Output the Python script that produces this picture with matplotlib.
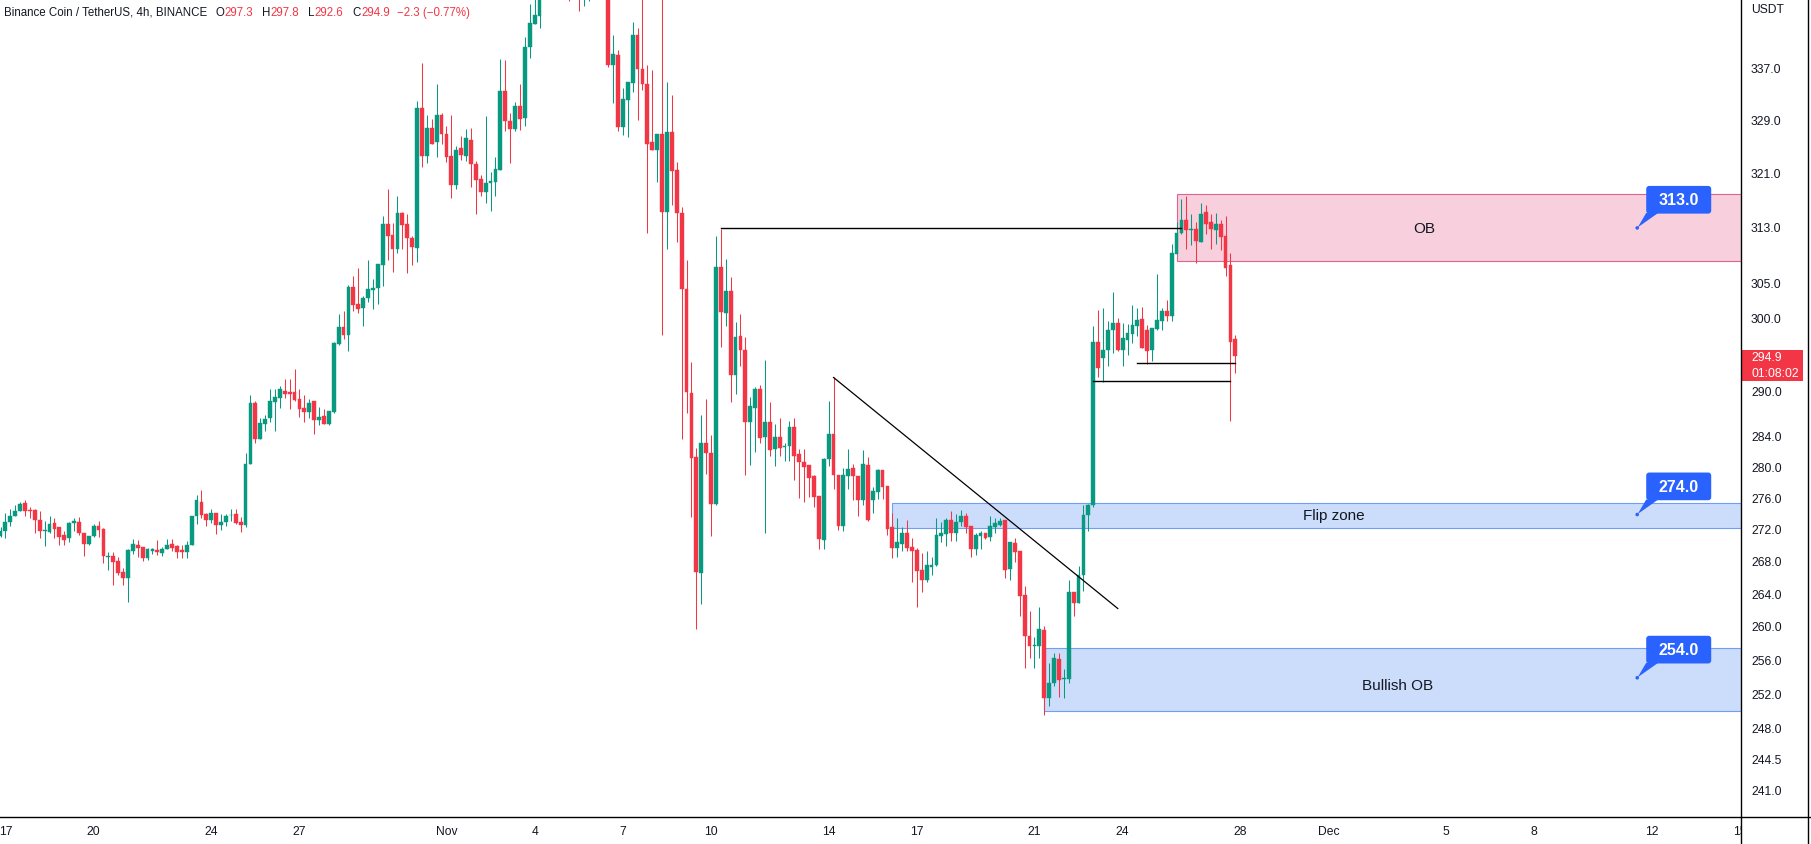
import numpy as np
import pandas as pd
import matplotlib
matplotlib.use("Agg")
import matplotlib.pyplot as plt
from matplotlib.patches import Rectangle, FancyBboxPatch, Polygon, Circle
from matplotlib.lines import Line2D
from matplotlib.transforms import IdentityTransform
from matplotlib.ticker import NullLocator

plt.rcParams['font.family'] = ['Liberation Sans', 'DejaVu Sans']

# ---- BNB/USDT 4h candles (first candle 2022-10-16 20:00, last 2022-11-27 20:00)
first_candle = '2022-10-16 20:00'

opens = [
    271.3, 271.9, 273.0, 273.8, 274.5, 275.5, 274.6, 274.6, 273.3, 271.9,
    271.8, 272.9, 272.4, 271.4, 271.0, 272.9, 273.1, 271.7, 270.3, 271.3,
    272.6, 272.2, 268.6, 268.8, 268.1, 266.8, 266.1, 269.4, 270.2, 269.9,
    268.5, 269.4, 269.5, 269.2, 269.65, 270.3, 270.0, 269.5, 269.3, 270.1,
    273.8, 275.6, 274.1, 273.3, 274.2, 272.7, 273.0, 273.9, 274.1, 273.1,
    272.7, 280.5, 288.6, 283.8, 285.8, 286.5, 288.7, 289.3, 290.2, 290.1,
    290.0, 289.1, 287.9, 287.4, 288.8, 286.3, 286.8, 285.8, 287.4, 296.6,
    298.9, 297.8, 304.6, 302.2, 301.6, 303.0, 304.1, 304.4, 307.7, 313.6,
    311.9, 309.9, 315.2, 313.5, 311.6, 310.1, 330.9, 323.6, 327.9, 325.7,
    329.8, 327.0, 323.6, 319.3, 324.8, 323.7, 326.1, 322.5, 320.2, 318.3,
    319.6, 319.8, 321.6, 333.6, 329.0, 327.7, 331.2, 329.4, 340.4, 344.1,
    345.4, 349.5, 354.0, 352.0, 355.5, 358.0, 352.5, 350.0, 354.5, 349.0,
    352.5, 356.5, 359.0, 353.5, 357.5, 337.6, 339.1, 328.0, 332.2, 334.8,
    342.3, 337.0, 334.7, 325.7, 324.5, 327.0, 315.3, 327.3, 321.5, 315.2,
    304.2, 289.9, 281.4, 266.7, 283.2, 281.9, 275.4, 307.4, 300.9, 304.0,
    292.4, 297.7, 295.7, 286.0, 287.9, 290.4, 284.0, 286.0, 282.4, 284.1,
    282.7, 282.8, 285.3, 281.8, 280.8, 280.4, 279.0, 276.4, 270.8, 281.1,
    284.5, 279.1, 272.5, 278.9, 280.0, 279.0, 275.8, 280.4, 275.9, 276.9,
    279.7, 277.6, 272.4, 269.8, 270.3, 271.7, 269.9, 269.5, 267.0, 265.8,
    267.4, 267.6, 271.3, 271.5, 273.3, 271.6, 273.0, 273.8, 272.5, 269.6,
    271.3, 271.7, 271.1, 272.4, 272.7, 273.3, 267.1, 270.4, 269.4, 263.9,
    259.0, 257.8, 257.8, 259.7, 251.6, 253.4, 256.2, 253.8, 253.9, 264.3,
    263.0, 266.4, 273.9, 275.2, 296.9, 294.6, 295.8, 298.5, 299.5, 295.7,
    297.1, 298.0, 299.1, 300.1, 298.5, 295.7, 298.7, 299.8, 301.2, 300.5,
    309.3, 312.2, 314.2, 312.7, 312.8, 311.0, 315.3, 313.8, 312.7, 313.5,
    311.8, 307.6, 297.3]

highs = [
    272.4, 274.2, 274.7, 275.2, 275.6, 275.8, 274.9, 274.7, 274.5, 273.2,
    273.85, 273.6, 272.4, 271.9, 273.1, 273.6, 273.7, 271.7, 271.3, 272.8,
    273.2, 272.3, 269.3, 269.3, 268.6, 267.3, 269.6, 270.9, 270.8, 269.9,
    269.8, 269.8, 270.75, 269.9, 270.9, 270.9, 270.2, 270.2, 270.7, 273.85,
    276.5, 277.2, 274.2, 274.7, 274.2, 274.1, 274.1, 274.7, 274.7, 273.7,
    282.0, 289.7, 288.8, 286.6, 287.0, 290.4, 290.5, 290.8, 291.8, 291.8,
    293.1, 290.4, 289.6, 289.1, 288.8, 288.0, 287.8, 287.5, 296.9, 300.8,
    301.1, 304.8, 306.1, 307.3, 303.2, 308.4, 305.7, 307.8, 314.8, 318.7,
    313.7, 317.6, 315.3, 315.1, 311.8, 332.0, 337.9, 329.9, 329.2, 334.7,
    330.1, 328.1, 329.9, 325.2, 326.6, 327.7, 327.8, 322.9, 320.8, 329.7,
    321.3, 323.5, 338.6, 338.4, 330.1, 331.8, 334.6, 342.0, 347.3, 351.0,
    352.0, 356.0, 358.0, 357.5, 361.0, 359.5, 354.0, 356.0, 355.5, 354.0,
    358.0, 362.0, 364.0, 360.0, 358.0, 342.3, 340.0, 334.0, 334.9, 344.4,
    343.5, 352.0, 337.6, 336.8, 327.0, 355.0, 335.0, 333.0, 322.7, 316.1,
    308.4, 294.1, 282.6, 286.9, 289.1, 284.3, 311.8, 312.9, 308.5, 306.0,
    299.6, 300.7, 297.6, 289.4, 290.7, 291.0, 294.4, 288.7, 285.7, 286.5,
    283.2, 286.1, 286.5, 282.4, 282.4, 280.4, 279.1, 276.4, 281.3, 288.8,
    292.0, 279.1, 280.0, 282.4, 280.5, 279.0, 282.3, 281.4, 277.5, 279.9,
    279.7, 277.6, 274.2, 273.6, 272.4, 273.3, 271.0, 269.8, 269.1, 269.4,
    268.7, 273.5, 273.0, 273.6, 274.5, 274.1, 274.6, 274.2, 272.5, 271.6,
    271.9, 271.7, 273.8, 273.5, 273.5, 273.3, 270.5, 271.0, 269.4, 265.0,
    262.0, 258.8, 262.5, 260.2, 255.7, 256.9, 256.9, 255.0, 265.8, 264.3,
    267.5, 275.2, 275.4, 299.0, 301.3, 301.6, 299.8, 303.8, 300.2, 299.5,
    299.4, 302.0, 301.6, 301.7, 299.2, 298.8, 306.4, 301.6, 302.7, 310.7,
    313.8, 317.3, 317.7, 315.1, 313.8, 316.7, 316.4, 315.0, 315.2, 314.1,
    314.8, 309.4, 297.8]

lows = [
    271.1, 271.0, 272.6, 273.8, 274.5, 273.8, 273.6, 271.7, 271.0, 270.0,
    271.6, 271.0, 270.2, 270.1, 270.5, 271.9, 271.4, 268.8, 270.2, 271.1,
    271.2, 267.9, 267.0, 265.2, 266.4, 265.2, 263.1, 269.0, 268.7, 268.2,
    268.3, 269.0, 268.9, 268.8, 269.65, 269.35, 268.5, 268.5, 268.5, 270.1,
    272.8, 273.6, 272.5, 272.9, 271.5, 272.0, 272.6, 273.2, 272.8, 271.8,
    272.4, 280.5, 283.2, 283.8, 284.8, 286.0, 284.8, 287.9, 289.3, 287.8,
    288.8, 286.7, 286.0, 286.6, 284.5, 285.6, 285.7, 285.6, 287.2, 296.4,
    297.3, 295.6, 301.2, 300.9, 299.1, 302.4, 301.4, 302.2, 304.7, 308.4,
    306.6, 309.4, 310.0, 306.5, 307.6, 308.1, 322.0, 322.6, 325.5, 323.5,
    325.5, 322.8, 317.4, 318.7, 323.1, 322.9, 319.0, 315.0, 317.7, 316.6,
    315.5, 317.7, 321.5, 327.4, 322.6, 327.4, 327.5, 328.1, 338.7, 344.1,
    343.4, 348.5, 350.0, 349.0, 352.5, 351.0, 347.8, 349.0, 346.2, 346.9,
    347.8, 353.0, 352.5, 348.3, 337.3, 331.7, 327.4, 326.8, 326.5, 333.4,
    329.1, 333.7, 312.3, 324.5, 319.7, 297.8, 310.0, 316.4, 310.9, 283.8,
    287.2, 273.7, 259.8, 262.8, 279.2, 271.3, 275.2, 296.2, 299.1, 288.7,
    289.8, 293.5, 279.1, 280.4, 282.1, 283.2, 271.7, 281.6, 280.3, 281.6,
    280.9, 280.9, 278.4, 276.1, 275.6, 276.3, 274.9, 269.7, 269.7, 280.3,
    277.3, 272.1, 271.9, 277.3, 275.9, 273.8, 275.2, 273.2, 274.2, 276.0,
    276.0, 271.4, 268.5, 268.7, 269.4, 269.4, 265.6, 262.5, 264.3, 265.5,
    266.4, 267.5, 270.5, 270.0, 270.7, 270.6, 272.5, 271.7, 268.6, 268.9,
    269.7, 270.9, 270.7, 271.6, 272.5, 266.0, 265.8, 268.0, 261.4, 255.1,
    256.3, 255.2, 256.3, 249.6, 250.7, 253.0, 251.8, 251.6, 253.4, 261.4,
    263.0, 264.5, 271.9, 275.0, 292.0, 291.4, 293.5, 295.4, 295.6, 293.6,
    295.1, 296.7, 297.7, 296.0, 293.9, 294.2, 298.5, 298.5, 299.8, 299.7,
    309.3, 312.1, 309.9, 310.5, 308.0, 310.9, 312.1, 310.0, 310.7, 309.8,
    306.1, 286.2, 292.6]

closes = [
    271.9, 273.0, 273.85, 274.5, 275.4, 274.5, 274.4, 273.25, 271.9, 272.1,
    272.8, 272.2, 271.2, 270.8, 272.9, 273.2, 271.7, 270.3, 271.3, 272.6,
    272.1, 268.8, 268.8, 268.0, 266.6, 266.0, 269.5, 270.3, 269.8, 268.5,
    269.65, 269.65, 269.3, 269.65, 270.2, 269.8, 269.3, 269.3, 270.2, 273.85,
    275.8, 274.0, 273.3, 274.2, 272.7, 273.1, 273.85, 273.95, 272.9, 272.7,
    280.5, 288.6, 283.8, 285.9, 286.4, 288.8, 289.4, 290.4, 289.8, 289.8,
    288.9, 287.7, 287.4, 288.6, 286.3, 286.7, 285.8, 287.5, 296.7, 298.9,
    297.8, 304.6, 302.0, 301.5, 303.0, 304.2, 304.4, 307.8, 313.6, 311.8,
    309.9, 315.2, 313.4, 311.5, 310.2, 330.9, 323.7, 327.9, 325.5, 329.8,
    326.9, 323.5, 319.3, 324.6, 323.8, 326.4, 322.4, 320.1, 318.3, 319.6,
    319.9, 321.7, 333.6, 328.9, 327.7, 331.2, 329.2, 340.5, 344.2, 345.5,
    349.5, 354.0, 352.0, 355.5, 358.0, 352.5, 350.0, 354.5, 349.0, 352.5,
    356.5, 359.0, 353.5, 357.5, 337.6, 339.3, 328.0, 332.3, 334.9, 342.3,
    337.0, 334.7, 325.5, 324.5, 327.0, 315.3, 327.3, 321.4, 315.2, 304.2,
    290.0, 281.3, 266.8, 283.2, 281.9, 275.4, 307.4, 301.0, 303.9, 292.3,
    297.6, 295.7, 286.0, 288.1, 290.4, 283.9, 286.0, 282.3, 284.0, 282.6,
    282.8, 285.3, 281.6, 280.7, 280.1, 278.7, 276.3, 270.9, 281.2, 284.5,
    279.1, 272.5, 279.1, 279.9, 278.9, 275.8, 280.5, 273.3, 277.0, 279.7,
    277.5, 272.2, 269.8, 270.5, 271.6, 269.8, 269.4, 266.9, 265.8, 267.6,
    267.6, 271.4, 271.6, 273.3, 271.7, 273.0, 273.8, 272.4, 269.6, 271.4,
    271.6, 271.0, 272.5, 272.9, 273.2, 267.0, 270.5, 269.3, 263.8, 259.0,
    257.8, 257.9, 259.8, 251.6, 253.4, 256.3, 253.7, 254.0, 264.3, 263.0,
    266.4, 273.9, 275.2, 296.8, 293.3, 295.8, 298.5, 299.5, 295.7, 297.4,
    298.1, 299.2, 299.9, 296.0, 295.6, 298.8, 299.9, 301.2, 300.5, 309.4,
    312.2, 314.2, 312.7, 312.8, 311.1, 315.1, 313.5, 312.8, 313.5, 311.7,
    307.3, 296.8, 294.9]

# axis ticks
tick_dates = ['2022-10-17', '2022-10-20', '2022-10-24', '2022-10-27', '2022-11-01',
              '2022-11-04', '2022-11-07', '2022-11-10', '2022-11-14', '2022-11-17',
              '2022-11-21', '2022-11-24', '2022-11-28', '2022-12-01', '2022-12-05',
              '2022-12-08', '2022-12-12', '2022-12-15']
tick_labels = ['17', '20', '24', '27', 'Nov', '4', '7', '10', '14', '17',
               '21', '24', '28', 'Dec', '5', '8', '12', '15']
price_ticks = [337.0, 329.0, 321.0, 313.0, 305.0, 300.0, 290.0, 284.0, 280.0, 276.0,
               272.0, 268.0, 264.0, 260.0, 256.0, 252.0, 248.0, 244.5, 241.0]

# drawings
zone_names = ['OB', 'Flip zone', 'Bullish OB']
zone_start = ['2022-11-25 20:00', '2022-11-16 04:00', '2022-11-21 08:00']
zone_top = [317.9, 275.5, 257.5]
zone_bottom = [308.3, 272.3, 250.1]
zone_text_day = [45.25, 42.19, 44.35]
zone_text_price = [313.0, 273.9, 253.1]
callout_prices = [313.0, 274.0, 254.0]
callout_time = '2022-12-11 12:00'

hlines = [('2022-11-10 08:00', '2022-11-26 00:00', 313.0),
          ('2022-11-24 12:00', '2022-11-27 20:00', 294.0),
          ('2022-11-23 00:00', '2022-11-27 16:00', 291.5)]
trend = [('2022-11-14 04:00', 292.0), ('2022-11-23 20:00', 262.3)]

UP = '#089981'
DOWN = '#F23645'
TXT = '#131722'
BLUE = '#2962FF'

W, H = 1811, 845
PR = 1741   # price scale left edge (px)
TB = 818    # time scale top edge (px from top)

t0 = pd.Timestamp('2022-10-20')


def day(ts):
    return (pd.Timestamp(ts) - t0) / pd.Timedelta('1D')


o = np.array(opens); h = np.array(highs); l = np.array(lows); c = np.array(closes)
times = pd.date_range(first_candle, periods=len(o), freq='4h')
x = ((times - t0) / pd.Timedelta('1D')).to_numpy()

fig = plt.figure(figsize=(W / 100, H / 100), dpi=100)
ax = fig.add_axes([0, 1 - TB / H, PR / W, TB / H])
ax.set_yscale('log')
ax.set_xlim(-3.184, 56.03)
ax.set_ylim(238.1, 348.1)
for s in ax.spines.values():
    s.set_visible(False)
ax.yaxis.set_major_locator(NullLocator())
ax.yaxis.set_minor_locator(NullLocator())
ax.set_xticks([day(d) for d in tick_dates])
ax.set_xticklabels(tick_labels)
ax.tick_params(axis='x', length=0, pad=6, labelsize=8.7, labelcolor=TXT)

# zones
zone_face = ['#F8CFDC', '#CCDDFB', '#CCDDFB']
zone_edge = ['#E0628E', '#6E9EF5', '#6E9EF5']
for i in range(3):
    x0 = day(zone_start[i])
    ax.add_patch(Rectangle((x0, zone_bottom[i]), 70 - x0, zone_top[i] - zone_bottom[i],
                           facecolor=zone_face[i], edgecolor=zone_edge[i], lw=0.8, zorder=1))
    ax.text(zone_text_day[i], zone_text_price[i], zone_names[i], ha='center', va='center',
            fontsize=11, color=TXT, zorder=5)

# candles
col = np.where(c >= o, UP, DOWN)
ax.vlines(x, l, h, colors=col, lw=0.75, zorder=3)
ax.bar(x, np.abs(c - o), bottom=np.minimum(o, c), width=0.13, color=col,
       edgecolor=col, linewidth=0.3, zorder=4)

# lines
for a, b, p in hlines:
    ax.plot([day(a), day(b)], [p, p], color='black', lw=1.0, zorder=5)
ax.plot([day(trend[0][0]), day(trend[1][0])], [trend[0][1], trend[1][1]],
        color='black', lw=0.9, zorder=5)

# callouts
for p in callout_prices:
    cx, cy = ax.transData.transform((day(callout_time), p))
    fig.add_artist(FancyBboxPatch((cx + 9, cy + 14.3), 65, 27.7,
                                  boxstyle='round,pad=0,rounding_size=3',
                                  transform=IdentityTransform(), fc=BLUE, ec='none', zorder=6))
    fig.add_artist(Polygon([(cx + 9, cy + 15), (cx + 21, cy + 15), (cx + 0.5, cy + 0.5)],
                           closed=True, transform=IdentityTransform(), fc=BLUE, ec='none', zorder=6))
    fig.add_artist(Circle((cx, cy), 1.8, transform=IdentityTransform(), fc=BLUE, ec='none', zorder=6))
    fig.text(cx + 41.5, cy + 28.2, f'{p:.1f}', transform=IdentityTransform(), color='white',
             fontsize=11.5, fontweight='bold', ha='center', va='center', zorder=7)

# price scale
fig.add_artist(Rectangle((PR / W, 0), 1 - PR / W, 1, transform=fig.transFigure,
                         facecolor='white', edgecolor='none', zorder=2))
for p in price_ticks:
    yy = ax.transData.transform((0, p))[1]
    fig.text(PR + 10, yy, f'{p:.1f}', transform=IdentityTransform(), fontsize=8.7,
             color=TXT, ha='left', va='center', zorder=4)
fig.text(PR + 10, H - 10, 'USDT', transform=IdentityTransform(), fontsize=8.7,
         color=TXT, ha='left', va='center', zorder=4)

yb = ax.transData.transform((0, c[-1]))[1]
fig.add_artist(Rectangle((PR, yb - 24.5), 62, 31, transform=IdentityTransform(),
                         facecolor=DOWN, edgecolor='none', zorder=5))
fig.text(PR + 10, yb - 1, f'{c[-1]:.1f}', transform=IdentityTransform(), fontsize=8.7,
         color='white', ha='left', va='center', zorder=6)
fig.text(PR + 10, yb - 16.3, '01:08:02', transform=IdentityTransform(), fontsize=8.7,
         color='white', ha='left', va='center', zorder=6)

# borders
fig.add_artist(Line2D([PR / W, PR / W], [0, 1], transform=fig.transFigure, color='black', lw=1.0, zorder=8))
fig.add_artist(Line2D([1807.5 / W, 1807.5 / W], [0, 1], transform=fig.transFigure, color='black', lw=1.0, zorder=8))
fig.add_artist(Line2D([0, 1], [1 - TB / H, 1 - TB / H], transform=fig.transFigure, color='black', lw=1.0, zorder=8))

# legend line, laid out piece by piece
ty = H - 13
legend_parts = [('Binance Coin / TetherUS, 4h, BINANCE', TXT, 9),
                ('O', TXT, 0), (f'{o[-1]:.1f}', DOWN, 9),
                ('H', TXT, 0), (f'{h[-1]:.1f}', DOWN, 9),
                ('L', TXT, 0), (f'{l[-1]:.1f}', DOWN, 9),
                ('C', TXT, 0), (f'{c[-1]:.1f}', DOWN, 7),
                ('\u22122.3 (\u22120.77%)', DOWN, 0)]
renderer = fig.canvas.get_renderer()
px = 3.6
for s, colr, gap in legend_parts:
    t = fig.text(px, ty, s, transform=IdentityTransform(), fontsize=8.3, color=colr, va='center')
    px = t.get_window_extent(renderer).x1 + gap

fig.savefig('out.png', dpi=100, facecolor='white')
